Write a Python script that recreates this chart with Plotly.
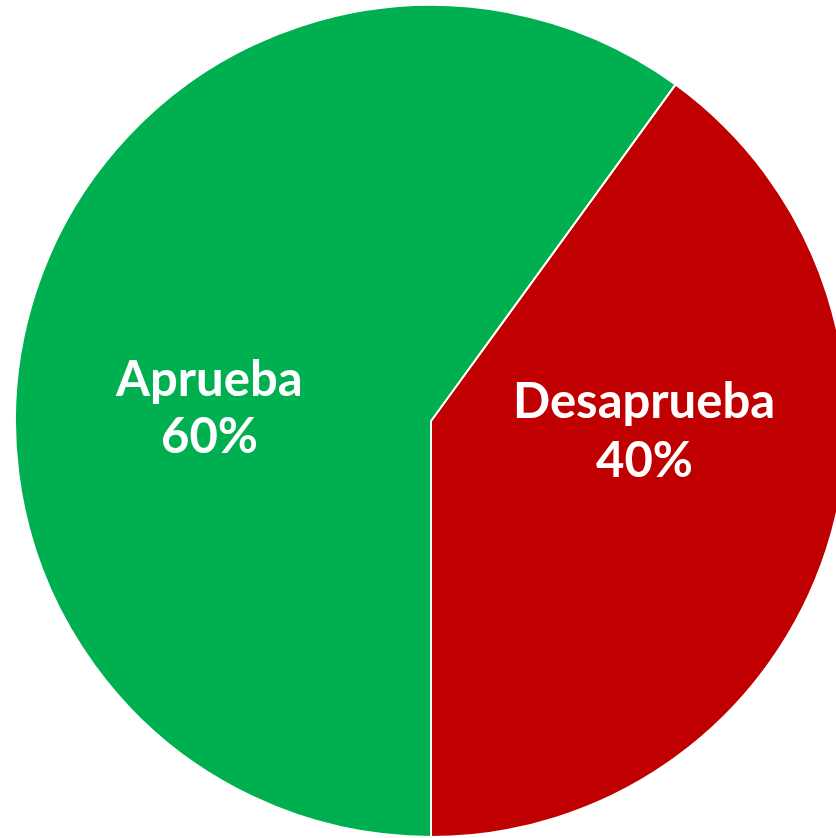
import plotly.graph_objects as go

labels = ["Desaprueba", "Aprueba"]
values = [40, 60]
colors = ["#C00000", "#00B050"]

# label anchor points (screen px) for the in-slice text, as in the reference
label_x = [644, 209]
label_name_y = [399, 377]
label_pct_y = [458, 434]

W, H = 862, 842

fig = go.Figure(go.Pie(
    labels=labels,
    values=values,
    marker=dict(colors=colors, line=dict(color="white", width=2)),
    sort=False,
    direction="clockwise",
    rotation=36,
    textinfo="none",
    showlegend=False,
    hoverinfo="label+percent",
    domain=dict(x=[0, 1], y=[5 / H, 837 / H]),
))

total = sum(values)
font = dict(family="Lato", size=49, color="white")
for lab, v, x, yn, yp in zip(labels, values, label_x, label_name_y, label_pct_y):
    pct = f"{round(100 * v / total)}%"
    fig.add_annotation(text=f"<b>{lab}</b>", x=x / W, y=1 - yn / H, xref="paper", yref="paper",
                       xanchor="center", yanchor="middle", showarrow=False, font=font)
    fig.add_annotation(text=f"<b>{pct}</b>", x=x / W, y=1 - yp / H, xref="paper", yref="paper",
                       xanchor="center", yanchor="middle", showarrow=False, font=font)

fig.update_layout(
    width=W,
    height=H,
    margin=dict(l=0, r=0, t=0, b=0),
    paper_bgcolor="white",
    plot_bgcolor="white",
)

fig.write_html("out.html", config=dict(displayModeBar=False),
               post_script="document.body.style.margin='0';document.body.style.overflow='hidden';")
